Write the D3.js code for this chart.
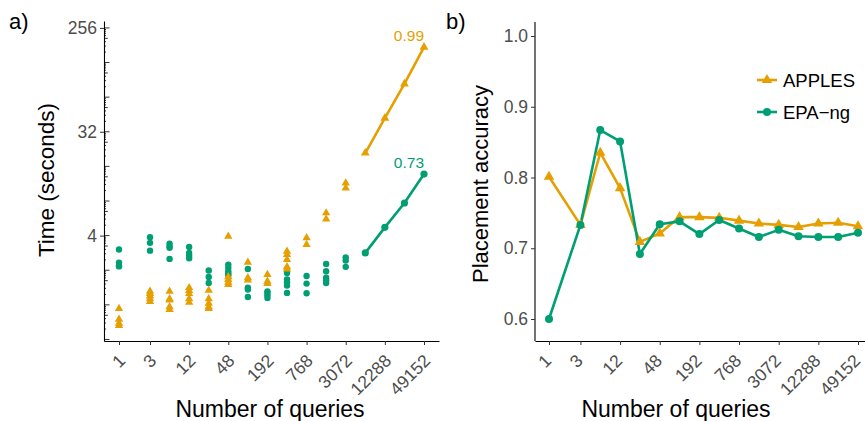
<!DOCTYPE html>
<html lang="en">

<head>
    <meta charset="UTF-8" />
    <title>APPLES vs EPA-ng</title>
    <script src="https://cdn.jsdelivr.net/npm/d3@7"></script>
    <style>
        body { margin: 0; background: #fff; }
        text { font-family: "Liberation Sans", Arial, sans-serif; }
    </style>
</head>

<body>
</body>

<script>
    // x positions (number of queries) and labelled ticks
    let queries = [1, 3, 6, 12, 24, 48, 96, 192, 384, 768, 1536, 3072, 6144, 12288, 24576, 49152];
    let tickQueries = [1, 3, 12, 48, 192, 768, 3072, 12288, 49152];
    let timeTicks = [4, 32, 256];
    let accTicks = [0.6, 0.7, 0.8, 0.9, 1.0];

    // a) running time, replicates for the small query sets (x = queries[0..11])
    let applesTimes = [
        [0.93, 0.75, 0.69, 0.66],
        [1.31, 1.25, 1.19, 1.13, 1.07],
        [1.31, 1.13, 1.10, 0.96, 0.91],
        [1.41, 1.33, 1.25, 1.13, 1.05],
        [1.34, 1.13, 1.03, 0.96, 0.93],
        [3.95, 1.75, 1.66, 1.57, 1.50],
        [2.34, 1.72, 1.64],
        [1.83, 1.60, 1.53],
        [2.92, 2.74, 2.48, 2.14, 2.05],
        [3.82, 3.34],
        [6.30, 5.58],
        [11.47, 10.38]
    ];
    let epaTimes = [
        [3.03, 2.33, 2.20, 2.16],
        [3.87, 3.46, 2.96],
        [3.41, 3.23, 3.13, 2.51],
        [3.19, 2.83, 2.69, 2.54],
        [1.99, 1.75, 1.55],
        [2.24, 2.10, 1.96, 1.87, 1.80],
        [2.05, 1.41, 1.36, 1.17],
        [1.31, 1.27, 1.21, 1.15],
        [1.89, 1.66, 1.57, 1.47, 1.27],
        [1.78, 1.53, 1.26],
        [2.27, 1.96, 1.72, 1.64, 1.55],
        [2.59, 2.43, 2.14]
    ];
    // a) large query sets, drawn as lines
    let lineQueries = [6144, 12288, 24576, 49152];
    let applesLine = [20.9, 42.1, 83.5, 174];
    let epaLine = [2.83, 4.72, 7.69, 13.73];
    let slopes = ["0.99", "0.73"];

    // b) placement accuracy
    let applesAcc = [0.801, 0.733, 0.835, 0.785, 0.709, 0.721, 0.744, 0.744, 0.743, 0.739, 0.735, 0.733, 0.730, 0.735, 0.736, 0.731];
    let epaAcc = [0.600, 0.733, 0.867, 0.851, 0.692, 0.734, 0.738, 0.720, 0.740, 0.728, 0.716, 0.726, 0.717, 0.716, 0.716, 0.722];

    let methods = ["APPLES", "EPA\u2212ng"];
    let colors = ["#E69F00", "#009E73"];

    let w = 865, h = 421;
    let axisY = 341;
    let tickFont = 17.5;

    let svg = d3.select("body").append("svg")
        .attr("width", w)
        .attr("height", h);

    let tri = d3.symbol(d3.symbolTriangle);

    // log2 x scale: data positions a..b, axis line lo..hi
    function makeX(a, b, lo, hi) {
        let s = d3.scaleLog().base(2).domain([1, 49152]).range([a, b]);
        return s.copy().domain([s.invert(lo), s.invert(hi)]).range([lo, hi]);
    }

    function drawXAxis(x, dx) {
        let g = svg.append("g")
            .attr("transform", `translate(0,${axisY})`)
            .call(d3.axisBottom(x).tickValues(tickQueries).tickSize(4).tickSizeOuter(0).tickFormat(d3.format("d")));
        g.select(".domain").attr("stroke", "#000").attr("stroke-width", 1.1);
        g.selectAll(".tick line").attr("stroke", "#333");
        g.selectAll(".tick text")
            .attr("x", 0).attr("y", 0).attr("dy", "0.72em")
            .attr("text-anchor", "end")
            .attr("transform", `translate(${dx},12) rotate(-45)`)
            .attr("fill", "#4d4d4d")
            .attr("font-size", tickFont)
            .attr("font-family", "Liberation Sans, Arial, sans-serif");
    }

    function styleYAxis(g) {
        g.select(".domain").attr("stroke", "#000").attr("stroke-width", 1.1);
        g.selectAll(".tick line").attr("stroke", "#333");
        g.selectAll(".tick text")
            .attr("fill", "#4d4d4d")
            .attr("font-size", tickFont)
            .attr("font-family", "Liberation Sans, Arial, sans-serif");
    }

    // ---------- panel a) ----------
    let xa = makeX(119, 424, 104, 439);
    let ya = d3.scaleLog().base(2).domain([0.485, 294]).range([axisY, 21]);

    let gya = svg.append("g")
        .attr("transform", "translate(104,0)")
        .call(d3.axisLeft(ya).tickValues(timeTicks).tickSize(4).tickSizeOuter(0).tickFormat(d3.format("d")));
    styleYAxis(gya);

    // log ticks inside the panel
    let logTicks = [];
    for (let k = -1; k <= 8; k++) {
        logTicks.push({ p: k, len: 5.5 });
        logTicks.push({ p: k + Math.log10(5), len: 3.8 });
        [2, 3, 4, 6, 7, 8, 9].forEach(m => logTicks.push({ p: k + Math.log10(m), len: 2 }));
    }
    svg.append("g").selectAll("line")
        .data(logTicks.filter(d => Math.pow(2, d.p) >= 0.485 && Math.pow(2, d.p) <= 294))
        .enter().append("line")
        .attr("x1", 104).attr("x2", d => 104 + d.len)
        .attr("y1", d => ya(Math.pow(2, d.p))).attr("y2", d => ya(Math.pow(2, d.p)))
        .attr("stroke", "#000").attr("stroke-width", 0.8);

    drawXAxis(xa, -2);

    // scatter of replicates
    let ptsA = [];
    applesTimes.forEach((vals, i) => vals.forEach(v => ptsA.push({ q: queries[i], v: v })));
    let ptsE = [];
    epaTimes.forEach((vals, i) => vals.forEach(v => ptsE.push({ q: queries[i], v: v })));

    svg.append("g").selectAll("circle")
        .data(ptsE).enter().append("circle")
        .attr("cx", d => xa(d.q)).attr("cy", d => ya(d.v))
        .attr("r", 3.2).attr("fill", colors[1]);

    svg.append("g").selectAll("path")
        .data(ptsA).enter().append("path")
        .attr("d", tri.size(30))
        .attr("transform", d => `translate(${xa(d.q)},${ya(d.v)})`)
        .attr("fill", colors[0]);

    // lines for large query sets
    let lineA = d3.line().x((d, i) => xa(lineQueries[i])).y(d => ya(d));
    [applesLine, epaLine].forEach((vals, k) => {
        svg.append("path").attr("d", lineA(vals))
            .attr("fill", "none").attr("stroke", colors[k]).attr("stroke-width", 2.6);
        let g = svg.append("g");
        if (k == 0) {
            g.selectAll("path").data(vals).enter().append("path")
                .attr("d", tri.size(34))
                .attr("transform", (d, i) => `translate(${xa(lineQueries[i])},${ya(d)})`)
                .attr("fill", colors[k]);
        } else {
            g.selectAll("circle").data(vals).enter().append("circle")
                .attr("cx", (d, i) => xa(lineQueries[i])).attr("cy", d => ya(d))
                .attr("r", 3.6).attr("fill", colors[k]);
        }
        let last = vals[vals.length - 1];
        svg.append("text")
            .attr("x", xa(lineQueries[lineQueries.length - 1]))
            .attr("y", ya(last) - 6.5)
            .attr("text-anchor", "end")
            .attr("font-size", 15.5)
            .attr("fill", colors[k])
            .text(slopes[k]);
    });

    // ---------- panel b) ----------
    let xb = makeX(549, 858, 535, 865);
    let yb = d3.scaleLinear().domain([0.6, 1.0]).range([319, 36]);

    let gyb = svg.append("g")
        .attr("transform", "translate(535,0)")
        .call(d3.axisLeft(yb).tickValues(accTicks).tickSize(4).tickSizeOuter(0).tickFormat(d3.format(".1f")));
    gyb.select(".domain").attr("d", `M-0,${axisY}V22`);
    styleYAxis(gyb);

    drawXAxis(xb, -6);

    let lineB = d3.line().x((d, i) => xb(queries[i])).y(d => yb(d));
    [applesAcc, epaAcc].forEach((vals, k) => {
        svg.append("path").attr("d", lineB(vals))
            .attr("fill", "none").attr("stroke", colors[k]).attr("stroke-width", 2.6)
            .attr("stroke-linejoin", "round");
    });
    [applesAcc, epaAcc].forEach((vals, k) => {
        let g = svg.append("g");
        if (k == 0) {
            g.selectAll("path").data(vals).enter().append("path")
                .attr("d", tri.size(48))
                .attr("transform", (d, i) => `translate(${xb(queries[i])},${yb(d)})`)
                .attr("fill", colors[k]);
        } else {
            g.selectAll("circle").data(vals).enter().append("circle")
                .attr("cx", (d, i) => xb(queries[i])).attr("cy", d => yb(d))
                .attr("r", 4).attr("fill", colors[k]);
        }
    });

    // legend
    let leg = svg.append("g").attr("transform", "translate(757,80)");
    methods.forEach((m, k) => {
        let r = leg.append("g").attr("transform", `translate(0,${k * 32})`);
        r.append("line").attr("x1", 0).attr("x2", 20)
            .attr("stroke", colors[k]).attr("stroke-width", 2.6);
        if (k == 0) r.append("path").attr("d", tri.size(48)).attr("transform", "translate(10,0)").attr("fill", colors[k]);
        else r.append("circle").attr("cx", 10).attr("r", 4).attr("fill", colors[k]);
        r.append("text").attr("x", 26).attr("y", 0).attr("dy", "0.36em")
            .attr("font-size", 18.5).attr("fill", "#000").text(m);
    });

    // titles
    svg.append("text").attr("x", 270).attr("y", 417).attr("text-anchor", "middle")
        .attr("font-size", 23).text("Number of queries");
    svg.append("text").attr("x", 676).attr("y", 417).attr("text-anchor", "middle")
        .attr("font-size", 23).text("Number of queries");
    svg.append("text").attr("transform", "translate(54,180) rotate(-90)").attr("text-anchor", "middle")
        .attr("font-size", 22.5).text("Time (seconds)");
    svg.append("text").attr("transform", "translate(488,184) rotate(-90)").attr("text-anchor", "middle")
        .attr("font-size", 22).text("Placement accuracy");
    svg.append("text").attr("x", 9).attr("y", 29).attr("font-size", 22).text("a)");
    svg.append("text").attr("x", 446).attr("y", 29).attr("font-size", 22).text("b)");
</script>

</html>
